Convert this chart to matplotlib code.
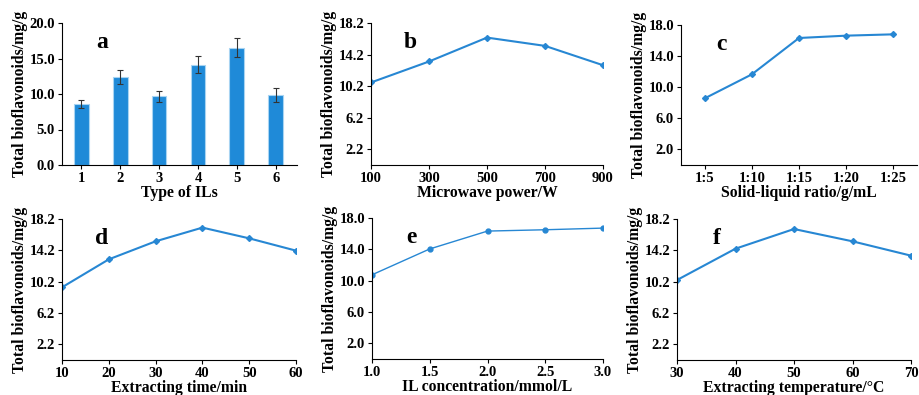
import matplotlib.pyplot as plt
import numpy as np

plt.rcParams['font.family'] = ['Liberation Serif', 'DejaVu Serif']
plt.rcParams['font.weight'] = 'bold'

# a: type of ILs
ils = [1, 2, 3, 4, 5, 6]
ils_val = [8.55, 12.43, 9.65, 14.15, 16.5, 9.85]
ils_err = [0.55, 1.0, 0.8, 1.2, 1.35, 1.0]

# b: microwave power
power = [100, 300, 500, 700, 900]
power_val = [10.66, 13.32, 16.35, 15.3, 12.85]

# c: solid-liquid ratio
ratio = ['1:5', '1:10', '1:15', '1:20', '1:25']
ratio_val = [8.56, 11.65, 16.33, 16.63, 16.8]

# d: extracting time
time_min = [10, 20, 30, 40, 50, 60]
time_val = [9.48, 13.05, 15.35, 17.1, 15.73, 14.16]

# e: IL concentration
conc = [1.0, 1.5, 2.0, 2.5, 3.0]
conc_val = [10.75, 14.05, 16.33, 16.5, 16.71]

# f: extracting temperature
temp = [30, 40, 50, 60, 70]
temp_val = [10.41, 14.41, 16.92, 15.35, 13.52]

ylab = 'Total bioflavonoids/mg/g'
blue = '#2787d3'
W, H = 919, 395
LFS = 11.3


def make_ax(l, r, t, b):
    ax = fig.add_axes([l / W, (H - b) / H, (r - l) / W, (b - t) / H])
    ax.spines['top'].set_visible(False)
    ax.spines['right'].set_visible(False)
    ax.tick_params(direction='out', length=3, labelsize=10.5, pad=2)
    ax.set_ylabel(ylab, fontsize=LFS, fontweight='bold', labelpad=1)
    return ax


def tag(ax, s):
    ax.text(0.17, 0.86, s, transform=ax.transAxes, fontsize=17,
            fontweight='bold', ha='center', va='center')


fig = plt.figure(figsize=(W / 100, H / 100), dpi=100)

# a
ax = make_ax(62, 297, 23, 165)
ax.bar(ils, ils_val, width=0.38, color='#1f8ad8', edgecolor='#a8d4f2',
       linewidth=0.8, yerr=ils_err, capsize=2.5,
       error_kw=dict(ecolor='#333333', elinewidth=0.8, capthick=0.8))
ax.set_xlim(0.5, 6.55)
ax.set_ylim(0, 20)
ax.set_yticks([0, 5, 10, 15, 20])
ax.set_yticklabels(['%.1f' % v for v in [0, 5, 10, 15, 20]])
ax.set_xticks(ils)
ax.set_xlabel('Type of ILs', fontsize=LFS, fontweight='bold', labelpad=0)
tag(ax, 'a')

# b
ax = make_ax(371, 603, 23, 165)
ax.plot(power, power_val, color=blue, lw=1.5, marker='D', ms=3)
ax.set_xlim(100, 900)
ax.set_ylim(0.2, 18.2)
ax.set_xticks(power)
ax.set_yticks([2.2, 6.2, 10.2, 14.2, 18.2])
ax.set_xlabel('Microwave power/W', fontsize=LFS, fontweight='bold', labelpad=0)
tag(ax, 'b')

# c
ax = make_ax(681, 917, 25, 165)
ax.plot(range(len(ratio)), ratio_val, color=blue, lw=1.5, marker='D', ms=3)
ax.set_xlim(-0.5, 4.5)
ax.set_ylim(0, 18)
ax.set_xticks(range(len(ratio)))
ax.set_xticklabels(ratio)
ax.set_yticks([2, 6, 10, 14, 18])
ax.set_yticklabels(['%.1f' % v for v in [2, 6, 10, 14, 18]])
ax.set_xlabel('Solid-liquid ratio/g/mL', fontsize=LFS, fontweight='bold', labelpad=0)
tag(ax, 'c')

# d
ax = make_ax(62, 296, 219, 360)
ax.plot(time_min, time_val, color=blue, lw=1.5, marker='D', ms=3)
ax.set_xlim(10, 60)
ax.set_ylim(0.2, 18.2)
ax.set_xticks(time_min)
ax.set_yticks([2.2, 6.2, 10.2, 14.2, 18.2])
ax.set_xlabel('Extracting time/min', fontsize=LFS, fontweight='bold', labelpad=0)
tag(ax, 'd')

# e
ax = make_ax(372, 603, 218, 359)
ax.plot(conc, conc_val, color=blue, lw=1.0, marker='o', ms=3.5)
ax.set_xlim(1.0, 3.0)
ax.set_ylim(0, 18)
ax.set_xticks(conc)
ax.set_xticklabels(['%.1f' % v for v in conc])
ax.set_yticks([2, 6, 10, 14, 18])
ax.set_yticklabels(['%.1f' % v for v in [2, 6, 10, 14, 18]])
ax.set_xlabel('IL concentration/mmol/L', fontsize=LFS, fontweight='bold', labelpad=0)
tag(ax, 'e')

# f
ax = make_ax(677, 911, 219, 360)
ax.plot(temp, temp_val, color=blue, lw=1.5, marker='D', ms=3)
ax.set_xlim(30, 70)
ax.set_ylim(0.2, 18.2)
ax.set_xticks(temp)
ax.set_yticks([2.2, 6.2, 10.2, 14.2, 18.2])
ax.set_xlabel('Extracting temperature/\u00b0C', fontsize=LFS, fontweight='bold', labelpad=0)
tag(ax, 'f')

fig.savefig('out.png', dpi=100)
